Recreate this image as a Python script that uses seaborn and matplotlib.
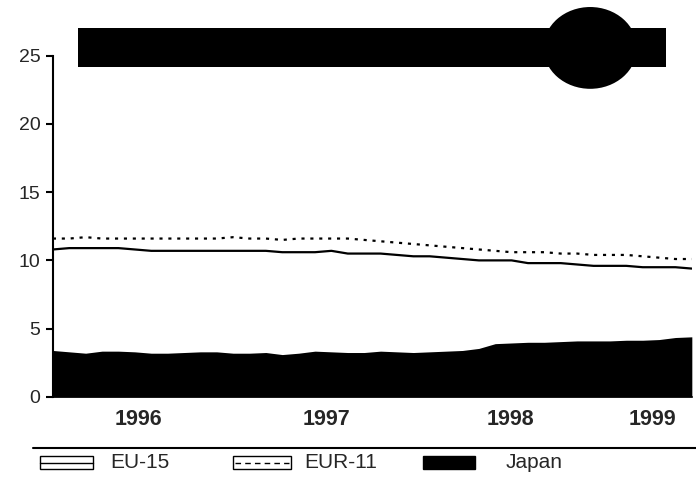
import numpy as np
import pandas as pd
import matplotlib
matplotlib.use("Agg")
import matplotlib.pyplot as plt
from matplotlib.patches import Rectangle, Ellipse
from matplotlib.lines import Line2D
import seaborn as sns

# monthly values, Jan 1996 - Apr 1999
eu15 = [10.8, 10.9, 10.9, 10.9, 10.9, 10.8, 10.7, 10.7, 10.7, 10.7,
        10.7, 10.7, 10.7, 10.7, 10.6, 10.6, 10.6, 10.7, 10.5, 10.5,
        10.5, 10.4, 10.3, 10.3, 10.2, 10.1, 10.0, 10.0, 10.0, 9.8,
        9.8, 9.8, 9.7, 9.6, 9.6, 9.6, 9.5, 9.5, 9.5, 9.4]
eur11 = [11.6, 11.6, 11.7, 11.6, 11.6, 11.6, 11.6, 11.6, 11.6, 11.6,
         11.6, 11.7, 11.6, 11.6, 11.5, 11.6, 11.6, 11.6, 11.6, 11.5,
         11.4, 11.3, 11.2, 11.1, 11.0, 10.9, 10.8, 10.7, 10.6, 10.6,
         10.6, 10.5, 10.5, 10.4, 10.4, 10.4, 10.3, 10.2, 10.1, 10.1]
japan = [3.4, 3.3, 3.2, 3.35, 3.35, 3.3, 3.2, 3.2, 3.25, 3.3,
         3.3, 3.2, 3.2, 3.25, 3.1, 3.2, 3.35, 3.3, 3.25, 3.25,
         3.35, 3.3, 3.25, 3.3, 3.35, 3.4, 3.55, 3.9, 3.95, 4.0,
         4.0, 4.05, 4.1, 4.1, 4.1, 4.15, 4.15, 4.2, 4.35, 4.4]
years = ["1996", "1997", "1998", "1999"]
y_ticks = [0, 5, 10, 15, 20, 25]

month = np.arange(len(eu15))
df = pd.DataFrame({"month": month, "EU-15": eu15, "EUR-11": eur11, "Japan": japan})

sns.set_style("white")
plt.rcParams["font.family"] = ["Liberation Sans", "DejaVu Sans"]

fig = plt.figure(figsize=(6.96, 4.84), dpi=100)
ax = fig.add_axes([0.076, 0.180, 0.918, 0.705])

ax.fill_between(df["month"], 0, df["Japan"], color="black", lw=0)
sns.lineplot(data=df, x="month", y="EU-15", ax=ax, color="black", lw=1.6)
sns.lineplot(data=df, x="month", y="EUR-11", ax=ax, color="black", lw=1.6,
             linestyle=(0, (1.4, 2.6)))

ax.set_xlim(0, len(eu15) - 1)
ax.set_ylim(0, 25)
ax.set_yticks(y_ticks)
ax.set_yticklabels([str(t) for t in y_ticks], fontsize=14)
# year labels sit roughly mid-year
ax.set_xticks([5.25, 16.7, 27.95, 36.6])
ax.set_xticklabels(years, fontsize=15.5, fontweight="bold")
ax.tick_params(axis="y", length=5, width=1.5, color="black", pad=4, direction="out", left=True)
ax.tick_params(axis="x", length=0, pad=9)
ax.set_xlabel("")
ax.set_ylabel("")
for s in ["top", "right"]:
    ax.spines[s].set_visible(False)
ax.spines["left"].set_color("black")
ax.spines["left"].set_linewidth(1.5)
ax.spines["bottom"].set_color("black")
ax.spines["bottom"].set_linewidth(1.2)

# title banner (blacked out)
fig.add_artist(Rectangle((0.112, 0.862), 0.845, 0.080, transform=fig.transFigure,
                         facecolor="black", edgecolor="none"))
fig.add_artist(Ellipse((0.848, 0.901), 0.134, 0.169, transform=fig.transFigure,
                       facecolor="black", edgecolor="none"))

# separator line above legend
fig.add_artist(Line2D([0.047, 1.0], [0.074, 0.074], transform=fig.transFigure,
                      color="black", lw=1.5))

# legend
ly = 0.044
bh = 0.027
fig.add_artist(Rectangle((0.058, ly - bh / 2), 0.075, bh, transform=fig.transFigure,
                         facecolor="white", edgecolor="black", lw=1.0))
fig.add_artist(Line2D([0.058, 0.133], [ly, ly], transform=fig.transFigure,
                      color="black", lw=1.0))
fig.text(0.158, ly, "EU-15", fontsize=15, va="center", ha="left")
fig.add_artist(Rectangle((0.335, ly - bh / 2), 0.083, bh, transform=fig.transFigure,
                         facecolor="white", edgecolor="black", lw=1.0))
fig.add_artist(Line2D([0.338, 0.415], [ly, ly], transform=fig.transFigure,
                      color="black", lw=1.0, linestyle=(0, (4, 3))))
fig.text(0.437, ly, "EUR-11", fontsize=15, va="center", ha="left")
fig.add_artist(Rectangle((0.608, ly - bh / 2), 0.075, bh, transform=fig.transFigure,
                         facecolor="black", edgecolor="black", lw=1.0))
fig.text(0.726, ly, "Japan", fontsize=15, va="center", ha="left")

fig.savefig("out.png", dpi=100)
